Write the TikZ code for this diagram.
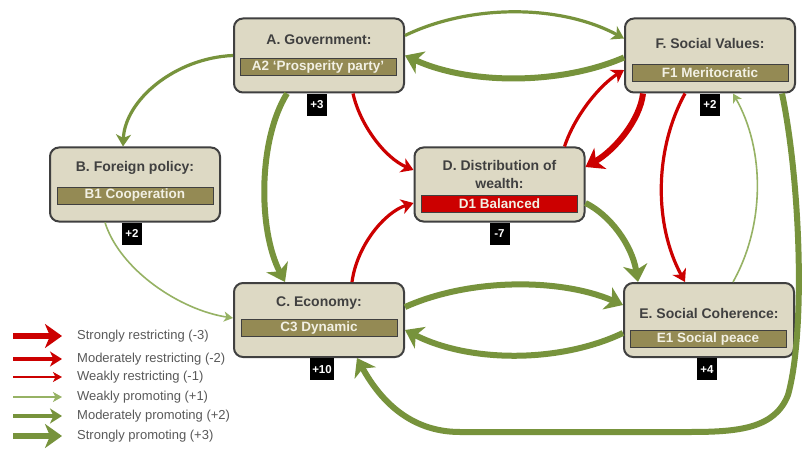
\documentclass[tikz,border=0pt]{standalone}
\usepackage{fontspec}
\setmainfont{Liberation Sans}
\usetikzlibrary{positioning,arrows.meta}
\definecolor{promotegreen}{RGB}{119,147,60}
\definecolor{promotelight}{RGB}{150,178,100}
\definecolor{restrictred}{RGB}{204,0,0}
\definecolor{factorfill}{RGB}{221,217,196}
\definecolor{factorline}{RGB}{64,64,64}
\definecolor{optionfill}{RGB}{148,138,84}
\definecolor{optiontext}{RGB}{242,240,228}
\definecolor{legendgray}{RGB}{89,89,89}

\tikzset{
  factor/.style={draw=factorline,fill=factorfill,line width=2pt,rounded corners=9pt,
    minimum width=170pt,minimum height=74pt,inner sep=0pt},
  factortitle/.style={font=\fontsize{14}{18}\selectfont\bfseries,text=factorline,
    align=center,inner sep=0pt},
  option/.style={draw=black!75,fill=optionfill,line width=0.8pt,minimum width=156pt,
    minimum height=17pt,inner sep=0pt,text=optiontext,font=\fontsize{13.5}{14}\selectfont\bfseries},
  score/.style={fill=black,text=white,font=\fontsize{11.5}{13}\selectfont\bfseries,
    minimum height=22pt,minimum width=20pt,inner sep=2pt},
  legendtext/.style={anchor=west,text=legendgray,font=\fontsize{13}{14}\selectfont,inner sep=0pt},
  strongR/.style={draw=restrictred,line width=6pt,-{Stealth[length=17pt,width=24pt,inset=5pt]}},
  modR/.style={draw=restrictred,line width=3.2pt,-{Stealth[length=12pt,width=15pt,inset=3.5pt]}},
  weakR/.style={draw=restrictred,line width=1.6pt,-{Stealth[length=9pt,width=10pt,inset=2.5pt]}},
  weakG/.style={draw=promotelight,line width=1.6pt,-{Stealth[length=9pt,width=10pt,inset=2.5pt]}},
  modG/.style={draw=promotegreen,line width=3.2pt,-{Stealth[length=12pt,width=15pt,inset=3.5pt]}},
  strongG/.style={draw=promotegreen,line width=6pt,-{Stealth[length=17pt,width=24pt,inset=5pt]}},
}

\begin{document}
\begin{tikzpicture}[x=1pt,y=1pt]
\useasboundingbox[fill=white] (0,0) rectangle (802,-449);

% factor boxes
\node[factor] (A) at (319,-55.5) {};
\node[factortitle] (Atitle) at (319,-40) {A. Government:};
\node[option] (Abar) at (318,-67) {A2 `Prosperity party'};
\node[score,below=0pt of A,xshift=-2pt] (Ascore) {+3};

\node[factor] (F) at (710,-55.5) {};
\node[factortitle] (Ftitle) at (710,-43) {F. Social Values:};
\node[option] (Fbar) at (710,-73) {F1 Meritocratic};
\node[score,below=0pt of F] (Fscore) {+2};

\node[factor] (B) at (135,-184.5) {};
\node[factortitle] (Btitle) at (135,-168) {B. Foreign policy:};
\node[option] (Bbar) at (135,-195.5) {B1 Cooperation};
\node[score,below=0pt of B,xshift=-3pt] (Bscore) {+2};

\node[factor] (D) at (499.5,-184.5) {};
\node[factortitle] (Dtitle) at (499.5,-174) {D. Distribution of\\wealth:};
\node[option,fill=restrictred] (Dbar) at (499.5,-203.5) {D1 Balanced};
\node[score,below=0pt of D] (Dscore) {-7};

\node[factor] (C) at (319,-320) {};
\node[factortitle] (Ctitle) at (319,-303) {C. Economy:};
\node[option] (Cbar) at (319,-328) {C3 Dynamic};
\node[score,below=0pt of C,xshift=3pt] (Cscore) {+10};

\node[factor] (E) at (709,-320) {};
\node[factortitle] (Etitle) at (709,-313) {E. Social Coherence:};
\node[option] (Ebar) at (708,-339) {E1 Social peace};
\node[score,below=0pt of E,xshift=-2pt] (Escore) {+4};

% influences
\draw[modG] ([yshift=20]A.east) .. controls (470,-4) and (560,-4) .. ([yshift=17]F.west);
\draw[strongG] ([yshift=-2]F.west) .. controls (560,-85) and (470,-85) .. (A.east);
\draw[modG] (A.west) .. controls (175,-58) and (125,-100) .. ([xshift=-12]B.north);
\draw[strongG] ([xshift=-32]A.south) .. controls (258,-140) and (258,-230) .. ([xshift=-34]C.north);
\draw[modR] ([xshift=34]A.south) .. controls (360,-125) and (385,-158) .. ([yshift=14.5]D.west);
\draw[modR] ([xshift=33]C.north) .. controls (357,-245) and (385,-212) .. ([yshift=-18.5]D.west);
\draw[weakG] ([xshift=-30]B.south) .. controls (120,-270) and (180,-310) .. ([yshift=2]C.west);
\draw[strongG] ([yshift=-18.5]D.east) .. controls (610,-215) and (632,-245) .. ([xshift=-71]E.north);
\draw[strongG] ([yshift=13]C.east) .. controls (470,-278) and (560,-278) .. ([yshift=15]E.west);
\draw[strongG] ([yshift=-13]E.west) .. controls (560,-363) and (470,-363) .. ([yshift=-10]C.east);
\draw[strongR] ([xshift=-67]F.south) .. controls (640,-120) and (615,-150) .. ([yshift=17.5]D.east);
\draw[modR] ([xshift=65]D.north) .. controls (575,-115) and (600,-85) .. ([yshift=-14.5]F.west);
\draw[modR] ([xshift=-25]F.south) .. controls (654,-150) and (654,-225) .. ([xshift=-24]E.north);
\draw[weakG] ([xshift=24]E.north) .. controls (765,-225) and (765,-150) .. ([xshift=23]F.south);
\draw[strongG] ([xshift=72]F.south) .. controls (800,-180) and (806,-330) .. (788,-395)
  .. controls (775,-428) and (740,-432) .. (690,-432) -- (460,-432)
  .. controls (410,-432) and (380,-400) .. ([xshift=38]C.south);

% legend
\foreach \y/\sty/\txt [count=\i] in {336/strongR/{Strongly restricting (-3)},
    359/modR/{Moderately restricting (-2)}, 377/weakR/{Weakly restricting (-1)},
    397/weakG/{Weakly promoting (+1)}, 416/modG/{Moderately promoting (+2)},
    436/strongG/{Strongly promoting (+3)}} {
  \coordinate (key\i a) at (13,-\y);
  \coordinate (key\i b) at (62,-\y);
  \draw[\sty] (key\i a) -- (key\i b);
  \node[legendtext] (keytext\i) at (77,-\y) {\txt};
}
\end{tikzpicture}
\end{document}
